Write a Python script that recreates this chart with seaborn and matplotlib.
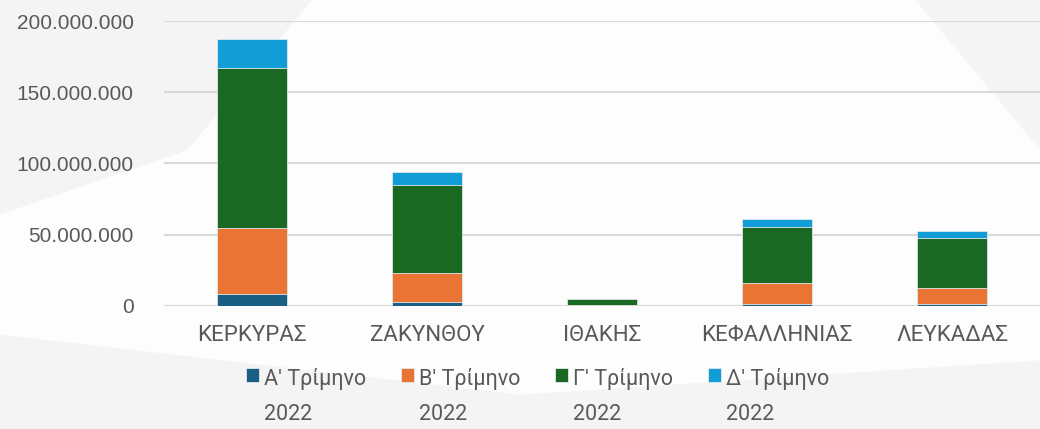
import matplotlib
matplotlib.use("Agg")
import matplotlib.pyplot as plt
from matplotlib.patches import Polygon
from matplotlib.ticker import FuncFormatter
import seaborn as sns
import pandas as pd
import numpy as np

# Data (in euros)
islands = ["ΚΕΡΚΥΡΑΣ", "ΖΑΚΥΝΘΟΥ", "ΙΘΑΚΗΣ", "ΚΕΦΑΛΛΗΝΙΑΣ", "ΛΕΥΚΑΔΑΣ"]
q1 = [8.6e6, 2.8e6, 0.2e6, 1.6e6, 1.4e6]
q2 = [45.9e6, 20.4e6, 0.3e6, 14.5e6, 11.0e6]
q3 = [112.7e6, 61.7e6, 4.0e6, 39.3e6, 35.5e6]
q4 = [20.2e6, 8.9e6, 0.3e6, 5.4e6, 4.9e6]
series_labels = ["Α' Τρίμηνο\n2022", "Β' Τρίμηνο\n2022",
                 "Γ' Τρίμηνο\n2022", "Δ' Τρίμηνο\n2022"]
colors = ["#1b5e84", "#ea7434", "#1b6823", "#139dd7"]

df = pd.DataFrame({"island": islands, "q1": q1, "q2": q2, "q3": q3, "q4": q4})
cum = df[["q1", "q2", "q3", "q4"]].cumsum(axis=1)

sns.set_style("white")
plt.rcParams["font.family"] = ["Roboto", "DejaVu Sans"]
narrow = ["Liberation Sans Narrow", "Roboto", "DejaVu Sans"]

fig = plt.figure(figsize=(10.4, 4.29), dpi=100)
fig.patch.set_facecolor("#fdfdfd")

# faint decorative background swooshes
bg = [
    ([(0, 1), (0.3, 1), (0.18, 0.65), (0, 0.5)], "#f4f4f4"),
    ([(0, 0.0), (0, 0.22), (0.5, 0.08), (1, 0.16), (1, 0.0)], "#f4f4f4"),
    ([(0.88, 1), (1, 1), (1, 0.65)], "#f5f5f5"),
]
for pts, c in bg:
    fig.patches.append(Polygon(pts, closed=True, transform=fig.transFigure,
                               facecolor=c, edgecolor="none", zorder=-5))

ax = fig.add_axes([0.158, 0.287, 0.842, 0.664])
ax.set_facecolor("none")

# stacked bars: draw cumulative totals from the top down
cols = ["q4", "q3", "q2", "q1"]
for col, color, label in zip(cols, colors[::-1], series_labels[::-1]):
    sns.barplot(x=df["island"], y=cum[col], color=color, width=0.4,
                edgecolor="#dfe8ee", linewidth=0.6, label=label, ax=ax,
                saturation=1, zorder=3)
if ax.get_legend() is not None:
    ax.get_legend().remove()

ax.set_ylim(0, 200e6)
ax.set_yticks(np.arange(0, 200e6 + 1, 50e6))
ax.yaxis.set_major_formatter(FuncFormatter(lambda v, p: f"{int(v):,}".replace(",", ".")))
ax.grid(axis="y", color="#d9d9d9", linewidth=1.5, zorder=0)
ax.set_axisbelow(True)
for s in ax.spines.values():
    s.set_visible(False)
ax.set_xlabel("")
ax.set_ylabel("")
ax.tick_params(axis="y", length=0, pad=22, labelsize=15, labelcolor="#595959")
ax.tick_params(axis="x", length=0, pad=14, labelsize=16, labelcolor="#595959")
for t in ax.get_yticklabels():
    t.set_fontfamily(["Liberation Sans", "DejaVu Sans"])
for t in ax.get_xticklabels():
    t.set_fontfamily(narrow)

handles, labels = ax.get_legend_handles_labels()
leg = fig.legend(handles[::-1], labels[::-1], loc="lower center",
                 bbox_to_anchor=(0.517, -0.035), ncol=4, frameon=False,
                 prop={"family": narrow, "size": 15.5},
                 handlelength=0.6, handleheight=0.6,
                 handletextpad=0.25, columnspacing=1.6)
for t in leg.get_texts():
    t.set_color("#595959")
    t.set_linespacing(1.85)
    t.set_multialignment("left")
# put the colour square next to the first line of each label
try:
    for column in leg._legend_handle_box.get_children():
        for item in column.get_children():
            item.align = "top"
except AttributeError:
    pass

fig.savefig("out.png", dpi=100, facecolor=fig.get_facecolor())
plt.close(fig)
